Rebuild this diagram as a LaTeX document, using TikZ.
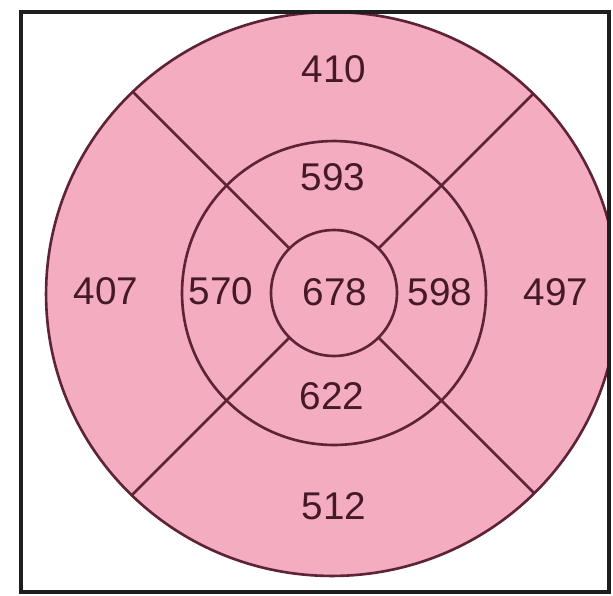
\documentclass[tikz,border=0pt]{standalone}
\usepackage{fontspec}
\setmainfont{Liberation Sans}
\usetikzlibrary{calc}
\definecolor{ringpink}{RGB}{243,172,192}
\definecolor{ringline}{RGB}{95,35,55}
\definecolor{numtext}{RGB}{70,25,40}
\definecolor{framecol}{RGB}{30,30,30}
\tikzset{
  ringstroke/.style={draw=ringline, line width=1.5pt},
  segnum/.style={text=numtext, font=\fontsize{22}{22}\selectfont, inner sep=0pt},
  framestroke/.style={draw=framecol, line width=2.6pt}
}
\begin{document}
\begin{tikzpicture}[x=0.02cm,y=-0.02cm]
\useasboundingbox (0,0) rectangle (613,596);
\coordinate (oc) at (332,294);
\coordinate (c) at (334,293);
\begin{scope}
  \clip (21,12) rectangle (609,592);
  \fill[ringpink] (oc) ellipse [x radius=5.72cm, y radius=5.64cm];
  \draw[ringstroke] (oc) ellipse [x radius=5.72cm, y radius=5.64cm];
  \clip (oc) ellipse [x radius=5.72cm, y radius=5.64cm];
  \foreach \a in {45,135,225,315}
    \draw[ringstroke] ($(c)+(\a:1.26cm)$) -- ($(c)+(\a:8cm)$);
\end{scope}
\draw[ringstroke] (c) circle [radius=3.04cm];
\draw[ringstroke] (c) circle [radius=1.26cm];
\node[segnum] (n410) at (334,69) {410};
\node[segnum] (n593) at (333,177) {593};
\node[segnum] (n407) at (106,291) {407};
\node[segnum] (n570) at (221,291) {570};
\node[segnum] (n678) at (335,292) {678};
\node[segnum] (n598) at (440,292) {598};
\node[segnum] (n497) at (556,292) {497};
\node[segnum] (n622) at (332,396) {622};
\node[segnum] (n512) at (334,506) {512};
\draw[framestroke] (21,12) rectangle (609,592);
\end{tikzpicture}
\end{document}
